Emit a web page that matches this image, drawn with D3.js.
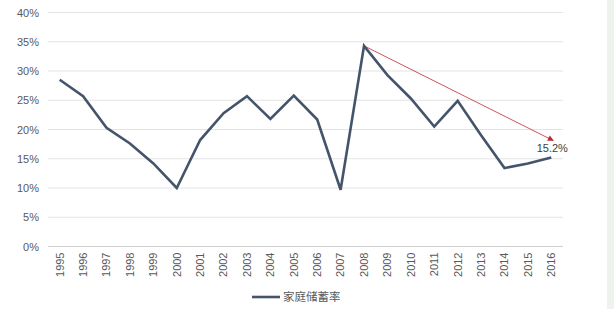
<!DOCTYPE html>
<html><head><meta charset="utf-8">
<script src="https://cdn.jsdelivr.net/npm/d3@7/dist/d3.min.js"></script>
<style>body{margin:0;background:#fff;}svg{display:block;}</style>
</head><body>
<svg id="c" width="614" height="309"></svg>
<script>
const years = ["1995","1996","1997","1998","1999","2000","2001","2002","2003","2004","2005","2006","2007","2008","2009","2010","2011","2012","2013","2014","2015","2016"];
const savingRate = [28.5,25.7,20.3,17.6,14.2,10.0,18.2,22.8,25.7,21.8,25.8,21.7,9.7,34.3,29.3,25.3,20.5,24.9,19.0,13.4,14.2,15.2];
const yTicks = [0,5,10,15,20,25,30,35,40];
const seriesName = "家庭储蓄率";
const endLabel = "15.2%";

(function(){
const svg = d3.select("#c");
const font = "'Liberation Sans', Arial, sans-serif";
const mLeft = 48, mRight = 563, mTop = 12.5, mBottom = 246.5;

svg.append("rect").attr("x",607).attr("y",0).attr("width",7).attr("height",309).attr("fill","#eef3ee");

const x = d3.scaleBand().domain(years).range([mLeft, mRight]);
const y = d3.scaleLinear().domain([0,40]).range([mBottom, mTop]);

// gridlines
svg.append("g").selectAll("line").data(yTicks).join("line")
  .attr("x1", mLeft).attr("x2", mRight)
  .attr("y1", d => y(d)).attr("y2", d => y(d))
  .attr("stroke", d => d === 0 ? "#d0d0d0" : "#e3e3e3").attr("stroke-width", 1);

// y axis labels
const yAxis = d3.axisLeft(y).tickValues(yTicks).tickSize(0).tickPadding(0).tickFormat(d => d + "%");
const yg = svg.append("g").attr("transform", `translate(${mLeft-9},0)`).call(yAxis);
yg.select(".domain").remove();
yg.selectAll("text").attr("font-family", font).attr("font-size", 11).attr("fill", "#595959");

// x axis labels
const xAxis = d3.axisBottom(x).tickSize(0).tickPadding(0);
const xg = svg.append("g").attr("transform", `translate(0,${mBottom})`).call(xAxis);
xg.select(".domain").remove();
xg.selectAll("text")
  .attr("font-family", font).attr("font-size", 11).attr("fill", "#595959")
  .attr("transform", "rotate(-90)")
  .attr("text-anchor", "end")
  .attr("dy", "0.35em")
  .attr("x", -6).attr("y", 0);

// line
const cx = d => x(d) + x.bandwidth()/2;
const line = d3.line().x((d,i) => cx(years[i])).y(d => y(d));
svg.append("path").datum(savingRate)
  .attr("d", line).attr("fill","none")
  .attr("stroke", "#44546a").attr("stroke-width", 2.6).attr("stroke-linejoin","miter");

// arrow
const defs = svg.append("defs");
defs.append("marker").attr("id","arr").attr("viewBox","0 0 10 10").attr("refX",9).attr("refY",5)
  .attr("markerWidth",7).attr("markerHeight",6).attr("orient","auto").attr("markerUnits","userSpaceOnUse")
  .append("path").attr("d","M0,0 L10,5 L0,10 z").attr("fill","#c0282d");
const i08 = years.indexOf("2008"), iEnd = years.length - 1;
svg.append("line")
  .attr("x1", cx(years[i08]) + 1).attr("y1", y(savingRate[i08]) + 0.5)
  .attr("x2", cx(years[iEnd]) + 2).attr("y2", y(savingRate[iEnd]) - 17)
  .attr("stroke","#c0282d").attr("stroke-width",0.8).attr("marker-end","url(#arr)");

svg.append("text").attr("x", cx(years[iEnd]) + 1).attr("y", y(savingRate[iEnd]) - 6)
  .attr("text-anchor","middle").attr("font-family", font).attr("font-size", 11).attr("fill","#404040")
  .text(endLabel);

// legend
svg.append("line").attr("x1",252).attr("x2",280).attr("y1",297).attr("y2",297)
  .attr("stroke","#44546a").attr("stroke-width",2.6);
svg.append("text").attr("x",283).attr("y",297).attr("dy","0.35em")
  .attr("font-family","'Noto Sans CJK SC', sans-serif").attr("font-size",11.5).attr("fill","#595959")
  .text(seriesName);
})();
</script>
</body></html>
